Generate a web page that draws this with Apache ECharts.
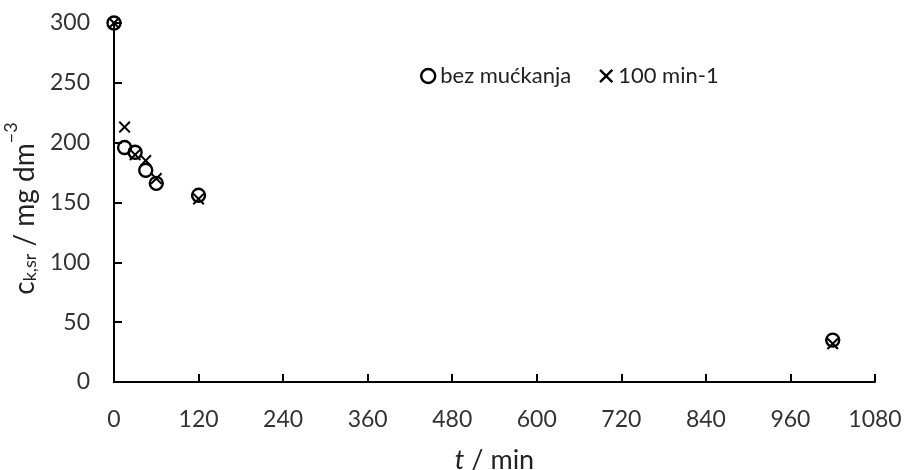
<!DOCTYPE html>
<html>
<head>
<meta charset="utf-8">
<script src="https://cdn.jsdelivr.net/npm/echarts@6/dist/echarts.min.js"></script>
<style>html,body{margin:0;padding:0;background:#fff}#c{width:904px;height:470px}</style>
</head>
<body>
<div id="c"></div>
<script>
var times = [0, 15, 30, 45, 60, 120, 1020];
var bezMuckanja = [300, 196, 192, 177, 166, 156, 35];
var min100 = [300, 213, 190, 185, 170, 153, 32];
var xTicks = [0, 120, 240, 360, 480, 600, 720, 840, 960, 1080];
var yTicks = [0, 50, 100, 150, 200, 250, 300];
var seriesNames = ['bez mućkanja', '100 min-1'];

var FONT = 'Lato';
var crossPath = 'path://M0,1.2 L1.2,0 L5,3.8 L8.8,0 L10,1.2 L6.2,5 L10,8.8 L8.8,10 L5,6.2 L1.2,10 L0,8.8 L3.8,5 Z';

function pairs(xs, ys) { return xs.map(function (x, i) { return [x, ys[i]]; }); }

var chart = echarts.init(document.getElementById('c'), null, {renderer: 'canvas'});
chart.setOption({
  animation: false,
  textStyle: {fontFamily: FONT},
  grid: {left: 114, right: 29, top: 23, bottom: 88, containLabel: false, outerBoundsMode: 'none'},
  legend: {
    left: 415, top: 60,
    itemWidth: 14, itemHeight: 14, itemGap: 28,
    textStyle: {fontFamily: FONT, fontSize: 22, color: '#222'},
    data: [
      {name: seriesNames[0], icon: 'circle', itemStyle: {color: 'rgba(0,0,0,0)', borderColor: '#000', borderWidth: 2.4}},
      {name: seriesNames[1], icon: crossPath, itemStyle: {color: '#000'}}
    ]
  },
  xAxis: {
    type: 'value', min: xTicks[0], max: xTicks[xTicks.length - 1], interval: 120,
    splitLine: {show: false},
    axisLine: {lineStyle: {color: '#000', width: 2}},
    axisTick: {inside: true, length: 8, lineStyle: {color: '#000', width: 2}},
    axisLabel: {margin: 26, fontSize: 23, color: '#333', fontFamily: FONT,
      formatter: function (v) { return String(v); }},
    name: '{i|t} / min', nameLocation: 'middle', nameGap: 65,
    nameTextStyle: {fontSize: 27, color: '#222', fontFamily: FONT,
      rich: {i: {fontStyle: 'italic', fontSize: 27, color: '#222', fontFamily: FONT}}}
  },
  yAxis: {
    type: 'value', min: yTicks[0], max: yTicks[yTicks.length - 1], interval: 50,
    splitLine: {show: false},
    axisLine: {show: true, lineStyle: {color: '#000', width: 2}},
    axisTick: {show: true, inside: true, length: 8, lineStyle: {color: '#000', width: 2}},
    axisLabel: {margin: 24, fontSize: 23, color: '#333', fontFamily: FONT},
    name: '{a|c}{sub|k,sr}{a| / mg dm}{sup|−3}', nameLocation: 'middle', nameGap: 72, nameRotate: 90,
    nameTextStyle: {color: '#222', fontFamily: FONT, fontSize: 28, padding: [0, 12, 0, 0],
      rich: {
        a: {fontSize: 28, color: '#222', fontFamily: FONT, verticalAlign: 'bottom', lineHeight: 37},
        sub: {fontSize: 18, color: '#222', fontFamily: FONT, verticalAlign: 'bottom', lineHeight: 27},
        sup: {fontSize: 18, color: '#222', fontFamily: FONT, verticalAlign: 'top', lineHeight: 37}
      }}
  },
  series: [
    {
      name: seriesNames[0], type: 'scatter', symbol: 'circle', symbolSize: 13,
      itemStyle: {color: 'rgba(0,0,0,0)', borderColor: '#000', borderWidth: 2.4, opacity: 1},
      data: pairs(times, bezMuckanja), z: 2
    },
    {
      name: seriesNames[1], type: 'scatter', symbol: crossPath, symbolSize: 12,
      itemStyle: {color: '#000', opacity: 1},
      data: pairs(times, min100), z: 3
    }
  ]
});
</script>
</body>
</html>
